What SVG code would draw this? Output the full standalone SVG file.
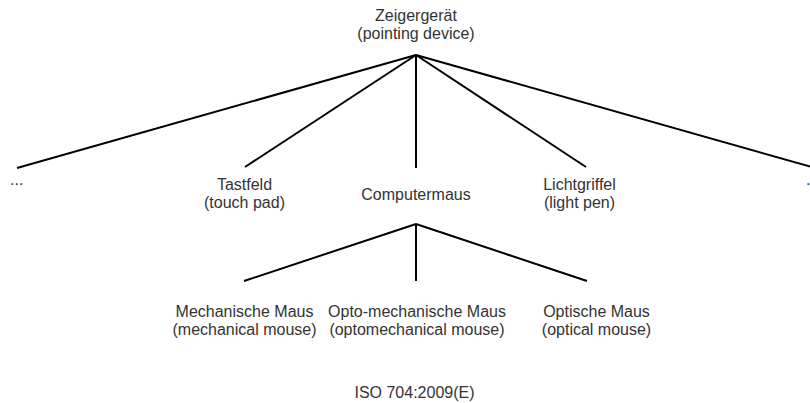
<svg xmlns="http://www.w3.org/2000/svg" width="810" height="403" viewBox="0 0 810 403">
<style>
  text { font-family: "Liberation Sans", Arial, sans-serif; font-size: 16px; fill: #333; }
  .c { text-anchor: middle; }
  .edge { stroke: #000; stroke-width: 2; fill: none; stroke-linecap: butt; }
</style>
<rect width="810" height="403" fill="#fff"/>
<g id="connectors">
  <line class="edge" x1="416" y1="55" x2="17" y2="168"/>
  <line class="edge" x1="416" y1="55" x2="245" y2="167"/>
  <line class="edge" x1="416" y1="55" x2="416" y2="168"/>
  <line class="edge" x1="416" y1="55" x2="586" y2="167"/>
  <line class="edge" x1="416" y1="55" x2="815" y2="168"/>
  <line class="edge" x1="416" y1="224" x2="244" y2="281"/>
  <line class="edge" x1="416" y1="224" x2="416" y2="281"/>
  <line class="edge" x1="416" y1="224" x2="587" y2="281"/>
</g>
<g id="zeigergeraet">
  <text class="c" x="416" y="21">Zeigergerät</text>
  <text class="c" x="416" y="39">(pointing device)</text>
</g>
<g id="more-left">
  <text x="10" y="185">...</text>
</g>
<g id="tastfeld">
  <text class="c" x="244.5" y="190">Tastfeld</text>
  <text class="c" x="244.5" y="208">(touch pad)</text>
</g>
<g id="computermaus">
  <text class="c" x="416" y="200">Computermaus</text>
</g>
<g id="lichtgriffel">
  <text class="c" x="579.5" y="190">Lichtgriffel</text>
  <text class="c" x="579.5" y="208">(light pen)</text>
</g>
<g id="more-right">
  <text x="806" y="185">...</text>
</g>
<g id="mechanische-maus">
  <text class="c" x="244.5" y="316.5">Mechanische Maus</text>
  <text class="c" x="244.5" y="334.5">(mechanical mouse)</text>
</g>
<g id="opto-mechanische-maus">
  <text class="c" x="417" y="316.5">Opto-mechanische Maus</text>
  <text class="c" x="417" y="334.5">(optomechanical mouse)</text>
</g>
<g id="optische-maus">
  <text class="c" x="596.5" y="316.5">Optische Maus</text>
  <text class="c" x="596.5" y="334.5">(optical mouse)</text>
</g>
<g id="caption">
  <text class="c" x="414.5" y="398">ISO 704:2009(E)</text>
</g>
</svg>
